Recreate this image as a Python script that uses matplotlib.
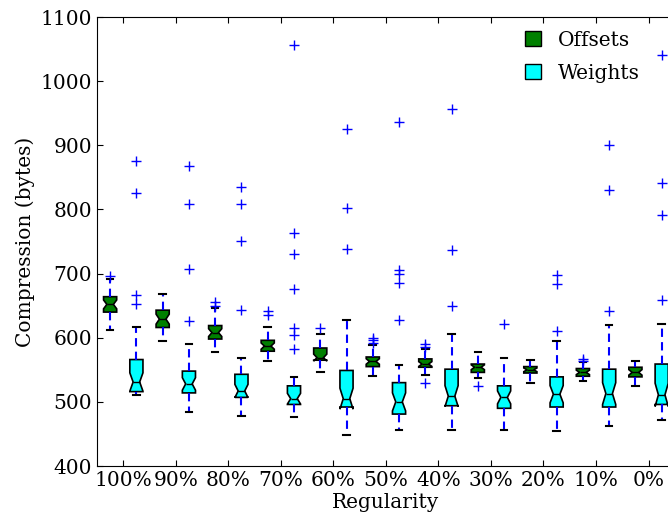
import numpy as np
import matplotlib
matplotlib.use("Agg")
import matplotlib.pyplot as plt
from matplotlib.patches import Patch

plt.rcParams["font.family"] = "DejaVu Serif"

# ===== DATA =====
labels = ["100%", "90%", "80%", "70%", "60%", "50%", "40%", "30%", "20%", "10%", "0%"]
N_SAMPLES = 30  # runs per regularity level, used for the notch

# Offsets
off_med = [652, 629, 608, 587, 569, 563, 559, 554, 550, 546, 546]
off_q1 = [640, 616, 598, 579, 565, 555, 554, 546, 545, 540, 539]
off_q3 = [664, 643, 619, 596, 584, 570, 567, 559, 555, 552, 554]
off_lo = [612, 595, 577, 563, 547, 540, 542, 538, 530, 533, 524]
off_hi = [692, 668, 646, 617, 606, 589, 582, 577, 565, 562, 564]
off_fliers = [[697], [], [655, 650], [642, 635], [615], [600, 596, 592],
              [590, 585, 530], [525], [], [567, 564], []]

# Weights
w_med = [531, 528, 517, 505, 505, 500, 509, 507, 512, 513, 511]
w_q1 = [516, 514, 507, 496, 492, 481, 494, 490, 492, 492, 496]
w_q3 = [566, 548, 543, 525, 549, 530, 551, 525, 539, 551, 559]
w_lo = [510, 485, 478, 477, 448, 456, 456, 456, 454, 462, 472]
w_hi = [617, 590, 568, 539, 627, 558, 606, 569, 595, 620, 622]
w_fliers = [[876, 826, 666, 652], [868, 808, 707, 626], [835, 808, 751, 643],
            [1057, 763, 730, 676, 615, 604, 583], [926, 802, 739],
            [937, 706, 700, 686, 628], [957, 737, 650], [622],
            [698, 684, 610], [901, 830, 642], [1041, 841, 792, 659]]


def make_stats(med, q1, q3, lo, hi, fliers):
    stats = []
    for i in range(len(med)):
        half = 1.57 * (q3[i] - q1[i]) / np.sqrt(N_SAMPLES)
        stats.append({
            "med": med[i], "q1": q1[i], "q3": q3[i],
            "whislo": lo[i], "whishi": hi[i],
            "cilo": med[i] - half, "cihi": med[i] + half,
            "fliers": fliers[i],
        })
    return stats


n = len(labels)
pos_off = np.arange(n) * 2 + 1
pos_w = np.arange(n) * 2 + 2

fig = plt.figure(figsize=(6.68, 5.15), dpi=100)
ax = fig.add_axes([0.1452, 0.0951, 0.865, 0.8718])

common = dict(
    shownotches=True, patch_artist=True, widths=0.5,
    whiskerprops=dict(color="blue", linestyle=(0, (4, 2.5)), linewidth=1.5),
    capprops=dict(color="black", linewidth=1.5),
    medianprops=dict(color="black", linewidth=1),
    flierprops=dict(marker="+", markeredgecolor="blue", markersize=7,
                    linestyle="none"),
)

ax.bxp(make_stats(off_med, off_q1, off_q3, off_lo, off_hi, off_fliers),
       positions=pos_off,
       boxprops=dict(facecolor="green", edgecolor="black", linewidth=1.2),
       **common)
ax.bxp(make_stats(w_med, w_q1, w_q3, w_lo, w_hi, w_fliers),
       positions=pos_w,
       boxprops=dict(facecolor="cyan", edgecolor="black", linewidth=1.2),
       **common)

ax.set_xlim(0.5, 2 * n + 0.5)
ax.set_ylim(400, 1100)
ax.set_xticks(pos_off + 0.5)
ax.set_xticklabels(labels)
ax.set_yticks(np.arange(400, 1101, 100))
ax.tick_params(direction="in", top=True, right=True, length=4, labelsize=14.5)

ax.set_xlabel("Regularity", fontsize=14.5, labelpad=2)
ax.set_ylabel("Compression (bytes)", fontsize=14.5)

handles = [Patch(facecolor="green", edgecolor="black"),
           Patch(facecolor="cyan", edgecolor="black")]
ax.legend(handles, ["Offsets", "Weights"], loc="upper right", frameon=False,
          fontsize=14.5, handlelength=0.8, handleheight=0.8, labelspacing=0.7,
          bbox_to_anchor=(0.97, 1.01))

fig.savefig("out.png", dpi=100)
